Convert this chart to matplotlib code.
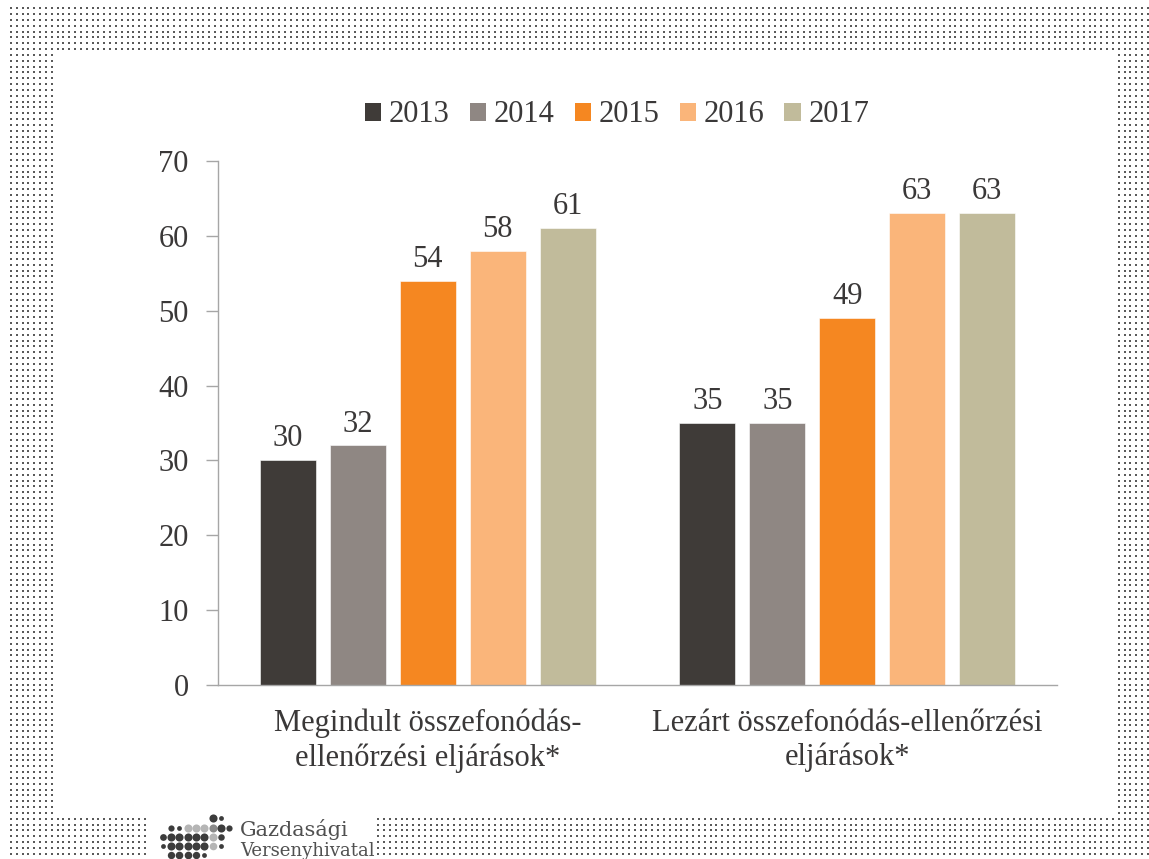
import matplotlib
matplotlib.use("Agg")
import matplotlib.pyplot as plt
from matplotlib.patches import Patch
import numpy as np

# ---- data ----
categories = ["Megindult összefonódás-\nellenőrzési eljárások*",
              "Lezárt összefonódás-ellenőrzési\neljárások*"]
years = ["2013", "2014", "2015", "2016", "2017"]
values_2013 = [30, 35]
values_2014 = [32, 35]
values_2015 = [54, 49]
values_2016 = [58, 63]
values_2017 = [61, 63]
series = [values_2013, values_2014, values_2015, values_2016, values_2017]
colors = ["#3f3b38", "#8f8783", "#f58721", "#fab57a", "#c1bb9b"]
yticks = [0, 10, 20, 30, 40, 50, 60, 70]

W, H = 1149, 859
FONT = "Liberation Serif"
TXT = "#3a3838"
AXC = "#a6a6a6"
FS = 22

fig = plt.figure(figsize=(W / 100, H / 100), dpi=100)
fig.patch.set_facecolor("white")

# ---- decorative dotted frame ----
bg = fig.add_axes([0, 0, 1, 1], zorder=-1)
bg.set_xlim(0, W)
bg.set_ylim(H, 0)
bg.axis("off")
step = 5.83
gx = 11 + step * np.arange(int((W - 11) / step) + 1)
gy = 8.3 + step * np.arange(int((H - 8) / step) + 1)
XX, YY = np.meshgrid(gx, gy)
XX = XX.ravel(); YY = YY.ravel()
mask = (YY <= 51) | (XX <= 55) | (XX >= 1113) | ((YY >= 815) & ((XX <= 150) | (XX >= 378)))
bg.scatter(XX[mask], YY[mask], s=3.2, marker="s", color="#5a5a5a", linewidths=0)

# logo dots
cols = [163, 171, 179, 188, 196, 204, 213, 221, 229]
D, G, L = "#3c3c3c", "#8a8a8a", "#b5b5b5"
logo = {
    818: {6: (D, 34), 7: (D, 12)},
    828: {1: (D, 20), 2: (D, 12), 3: (L, 34), 4: (L, 34), 5: (L, 34), 6: (G, 34), 7: (D, 34), 8: (D, 20)},
    837: {0: (D, 24), 1: (D, 34), 2: (D, 34), 3: (D, 34), 4: (D, 34), 5: (D, 34), 6: (L, 34), 7: (D, 22)},
    846: {0: (D, 12), 1: (D, 34), 2: (D, 34), 3: (D, 34), 4: (D, 34), 5: (D, 34), 6: (L, 30), 7: (D, 12)},
    855: {1: (D, 28), 2: (D, 30), 3: (D, 30), 4: (D, 28), 5: (D, 12)},
}
for yy, row in logo.items():
    for ci, (c, s) in row.items():
        bg.scatter([cols[ci]], [yy], s=s, color=c, linewidths=0)
bg.text(240, 836, "Gazdasági", fontsize=15, family="DejaVu Serif", color="#505050", va="baseline")
bg.text(240, 856, "Versenyhivatal", fontsize=13, family="DejaVu Serif", color="#505050", va="baseline")

# ---- main chart ----
x0, x1, y0, y1 = 218, 1057, 685, 161
ax = fig.add_axes([x0 / W, 1 - y0 / H, (x1 - x0) / W, (y0 - y1) / H])
x = np.arange(len(categories))
spacing = 1 / 6
width = 0.1333
for i, (vals, col, yr) in enumerate(zip(series, colors, years)):
    bars = ax.bar(x + (i - 2) * spacing, vals, width=width, color=col, label=yr,
                  edgecolor="white", linewidth=0.4)
    ax.bar_label(bars, labels=[str(v) for v in vals], padding=5,
                 fontsize=FS, family=FONT, color=TXT)

ax.set_xlim(-0.5, 1.5)
ax.set_ylim(0, 70)
ax.set_yticks(yticks)
ax.set_yticklabels([str(t) for t in yticks], fontsize=FS, family=FONT, color=TXT)
ax.set_xticks(x)
ax.set_xticklabels(categories, fontsize=FS, family=FONT, color=TXT, linespacing=1.22)
ax.tick_params(axis="x", length=0, pad=17)
ax.tick_params(axis="y", length=9, width=1, color=AXC, pad=12)
for sp in ["top", "right"]:
    ax.spines[sp].set_visible(False)
for sp in ["left", "bottom"]:
    ax.spines[sp].set_color(AXC)
    ax.spines[sp].set_linewidth(1)

handles = [Patch(facecolor=c, edgecolor="none") for c in colors]
fig.legend(handles, years, loc="center", bbox_to_anchor=(617 / W, 1 - 115 / H), ncol=5,
           frameon=False, prop={"family": FONT, "size": FS}, labelcolor=TXT,
           handlelength=0.53, handleheight=0.53, handletextpad=0.25, columnspacing=0.66)

fig.savefig("out.png", dpi=100, facecolor="white")
